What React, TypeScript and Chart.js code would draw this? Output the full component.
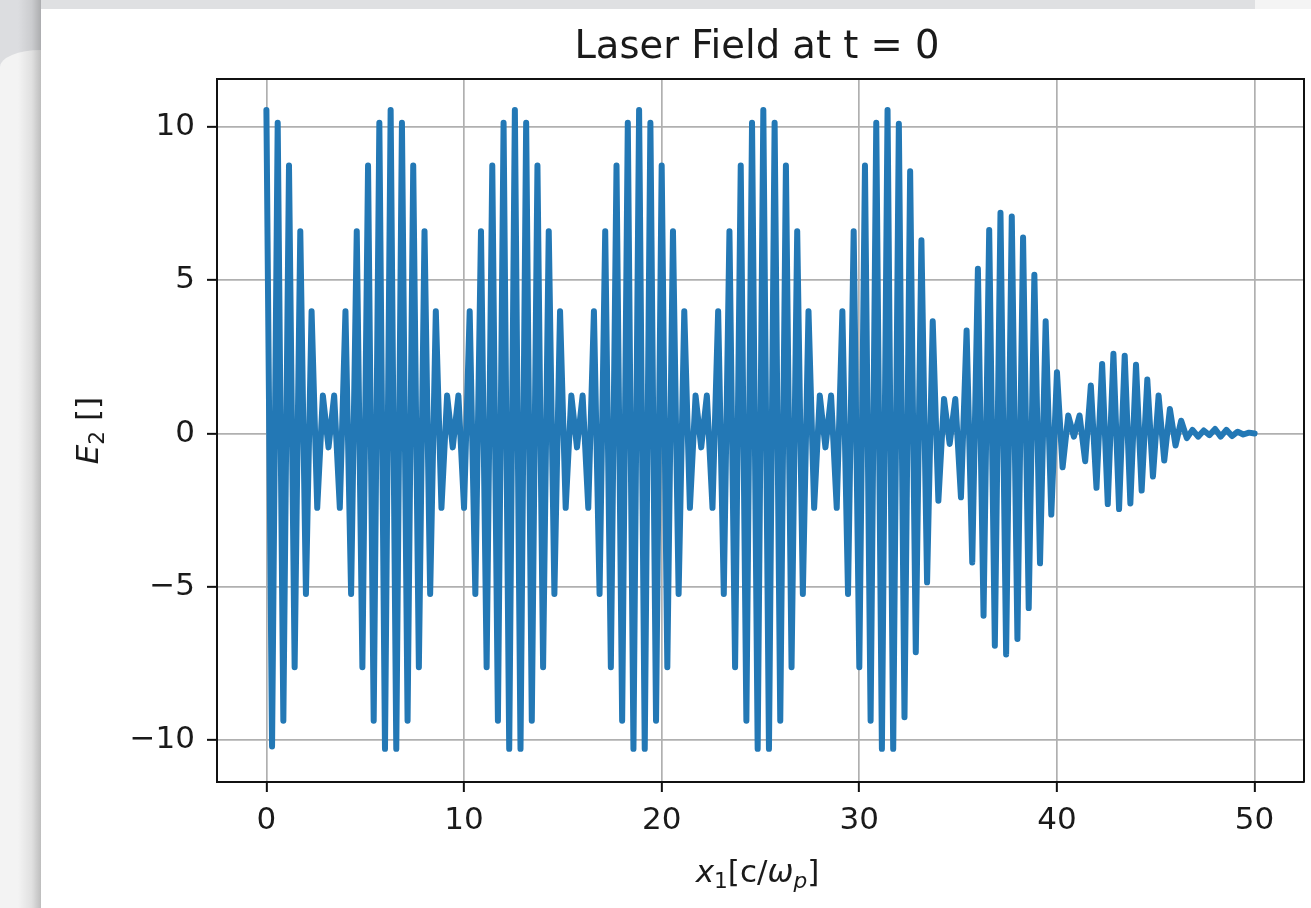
import React, { useEffect, useRef } from "react";
import { Chart, registerables } from "chart.js";

Chart.register(...registerables);

// ---- data ----
const TITLE = "Laser Field at t = 0";
const X_MIN = -2.5;
const X_MAX = 52.5;
const Y_MIN = -11.36;
const Y_MAX = 11.56;
const X_TICKS = [0, 10, 20, 30, 40, 50];
const Y_TICKS = [-10, -5, 0, 5, 10];
const DX = 50 / 175; // uniform sample spacing along x1

// E2 samples, one envelope period (22 samples) per array
const BURST_1 = [10.55, -10.2, 10.13, -9.36, 8.74, -7.62, 6.6, -5.23, 3.99, -2.42, 1.24, -0.45, 1.24, -2.42, 3.99, -5.23, 6.6, -7.62, 8.74, -9.36, 10.13, -10.28];
const BURST_2 = [10.55, -10.28, 10.13, -9.36, 8.74, -7.62, 6.6, -5.23, 3.99, -2.42, 1.24, -0.45, 1.24, -2.42, 3.99, -5.23, 6.6, -7.62, 8.74, -9.36, 10.13, -10.28];
const BURST_3 = [10.55, -10.28, 10.13, -9.36, 8.74, -7.62, 6.6, -5.23, 3.99, -2.42, 1.24, -0.45, 1.24, -2.42, 3.99, -5.23, 6.6, -7.62, 8.74, -9.36, 10.13, -10.28];
const BURST_4 = [10.55, -10.28, 10.13, -9.36, 8.74, -7.62, 6.6, -5.23, 3.99, -2.42, 1.24, -0.45, 1.24, -2.42, 3.99, -5.23, 6.6, -7.62, 8.74, -9.36, 10.13, -10.28];
const BURST_5 = [10.55, -10.28, 10.13, -9.36, 8.74, -7.62, 6.6, -5.23, 3.99, -2.42, 1.24, -0.45, 1.24, -2.42, 3.99, -5.23, 6.6, -7.62, 8.74, -9.36, 10.13, -10.28];
const BURST_6 = [10.55, -10.28, 10.1, -9.25, 8.55, -7.13, 6.3, -4.85, 3.66, -2.19, 1.13, -0.34, 1.13, -2.08, 3.36, -4.2, 5.37, -5.94, 6.64, -6.92, 7.2, -7.2];
const BURST_7 = [7.08, -6.7, 6.39, -5.69, 5.18, -4.23, 3.66, -2.64, 2.0, -1.1, 0.59, -0.1, 0.59, -0.9, 1.57, -1.77, 2.27, -2.3, 2.6, -2.46, 2.54, -2.28];
const BURST_8 = [2.24, -1.86, 1.76, -1.4, 1.24, -0.88, 0.8, -0.39, 0.42, -0.15, 0.12, -0.1, 0.1, -0.05, 0.15, -0.1, 0.12, -0.08, 0.06, -0.03, 0.03, 0.0];

const E2_VALUES = [
  ...BURST_1, ...BURST_2, ...BURST_3, ...BURST_4,
  ...BURST_5, ...BURST_6, ...BURST_7, ...BURST_8,
];
const X1_VALUES = E2_VALUES.map((_, i) => i * DX);

// ---- styling ----
const LINE_COLOR = "#2378b5";
const GRID_COLOR = "#b0b0b0";
const INK = "#1a1a1a";
const FONT = '"DejaVu Sans", sans-serif';
const TICK_SIZE = 31;

type Run = { text: string; italic?: boolean; sub?: boolean };

function drawRuns(ctx: CanvasRenderingContext2D, runs: Run[], cx: number, baseline: number, size: number) {
  const subSize = size * 0.7;
  const fontFor = (r: Run) => `${r.italic ? "italic " : ""}${r.sub ? subSize : size}px ${FONT}`;
  let total = 0;
  const widths = runs.map((r) => {
    ctx.font = fontFor(r);
    const w = ctx.measureText(r.text).width;
    total += w;
    return w;
  });
  let x = cx - total / 2;
  ctx.textAlign = "left";
  ctx.textBaseline = "alphabetic";
  runs.forEach((r, i) => {
    ctx.font = fontFor(r);
    ctx.fillText(r.text, x, baseline + (r.sub ? size * 0.2 : 0));
    x += widths[i];
  });
}

const decorPlugin = {
  id: "decor",
  afterDraw(chart: any) {
    const { ctx, chartArea: a } = chart;
    ctx.save();
    // top & right spines
    ctx.strokeStyle = "#111";
    ctx.lineWidth = 2;
    ctx.beginPath();
    ctx.moveTo(a.left, a.top);
    ctx.lineTo(a.right, a.top);
    ctx.lineTo(a.right, a.bottom);
    ctx.stroke();
    ctx.fillStyle = INK;
    // title
    ctx.font = `38.5px ${FONT}`;
    ctx.textAlign = "center";
    ctx.textBaseline = "alphabetic";
    ctx.fillText(TITLE, 757, 58);
    // x label: x_1[c/ω_p]
    drawRuns(
      ctx,
      [
        { text: "x", italic: true },
        { text: "1", sub: true },
        { text: "[c/" },
        { text: "ω", italic: true },
        { text: "p", italic: true, sub: true },
        { text: "]" },
      ],
      (a.left + a.right) / 2 - 3,
      882,
      31
    );
    // y label: E_2 []
    ctx.translate(98, (a.top + a.bottom) / 2);
    ctx.rotate(-Math.PI / 2);
    drawRuns(
      ctx,
      [
        { text: "E", italic: true },
        { text: "2", sub: true },
        { text: " []" },
      ],
      0,
      0,
      31
    );
    ctx.restore();
  },
};

const fmt = (v: number) => String(v).replace("-", "\u2212");

export default function App() {
  const ref = useRef<HTMLCanvasElement | null>(null);

  useEffect(() => {
    if (!ref.current) return;
    const chart = new Chart(ref.current, {
      type: "line",
      data: {
        datasets: [
          {
            data: X1_VALUES.map((x, i) => ({ x, y: E2_VALUES[i] })),
            borderColor: LINE_COLOR,
            borderWidth: 6,
            borderJoinStyle: "round",
            borderCapStyle: "round",
            pointRadius: 0,
            tension: 0,
            fill: false,
          },
        ],
      },
      options: {
        animation: false,
        responsive: false,
        devicePixelRatio: 1,
        layout: { padding: { left: 0, right: 7, top: 79, bottom: 0 } },
        plugins: {
          legend: { display: false },
          title: { display: false },
          tooltip: { enabled: false },
        },
        scales: {
          x: {
            type: "linear",
            min: X_MIN,
            max: X_MAX,
            afterFit: (s: any) => {
              s.height = 126;
            },
            afterBuildTicks: (s: any) => {
              s.ticks = X_TICKS.map((value) => ({ value }));
            },
            grid: { color: GRID_COLOR, lineWidth: 1.7, tickColor: "#111", tickLength: 10, tickWidth: 2 },
            border: { color: "#111", width: 2 },
            ticks: {
              color: INK,
              font: { family: FONT, size: TICK_SIZE },
              padding: 10,
              maxRotation: 0,
              autoSkip: false,
              callback: (v: any) => fmt(v),
            },
          },
          y: {
            type: "linear",
            min: Y_MIN,
            max: Y_MAX,
            afterFit: (s: any) => {
              s.width = 217;
            },
            afterBuildTicks: (s: any) => {
              s.ticks = Y_TICKS.map((value) => ({ value }));
            },
            grid: { color: GRID_COLOR, lineWidth: 1.7, tickColor: "#111", tickLength: 10, tickWidth: 2 },
            border: { color: "#111", width: 2 },
            ticks: {
              color: INK,
              font: { family: FONT, size: TICK_SIZE },
              padding: 12,
              autoSkip: false,
              callback: (v: any) => fmt(v),
            },
          },
        },
      },
      plugins: [decorPlugin],
    });
    return () => chart.destroy();
  }, []);

  return (
    <div style={{ position: "fixed", left: 0, top: 0, width: 1311, height: 908, background: "#ffffff", overflow: "hidden" }}>
      <div style={{ position: "absolute", left: 0, top: 0, width: 1255, height: 9, background: "#dfe0e2" }} />
      <div style={{ position: "absolute", left: 1255, top: 0, width: 56, height: 9, background: "#f4f4f4" }} />
      <div style={{ position: "absolute", left: 0, top: 0, width: 41, height: 908, background: "#dcdde0", overflow: "hidden" }}>
        <div style={{ position: "absolute", left: 0, top: 50, width: 41, height: 858, borderTopLeftRadius: "41px 17px", background: "#f3f3f3" }} />
        <div style={{ position: "absolute", left: 18, top: 0, width: 23, height: 908, background: "linear-gradient(to right, rgba(0,0,0,0), rgba(0,0,0,0.08) 60%, rgba(0,0,0,0.22))" }} />
      </div>
      <canvas ref={ref} width={1311} height={908} style={{ position: "absolute", left: 0, top: 0 }} />
    </div>
  );
}
